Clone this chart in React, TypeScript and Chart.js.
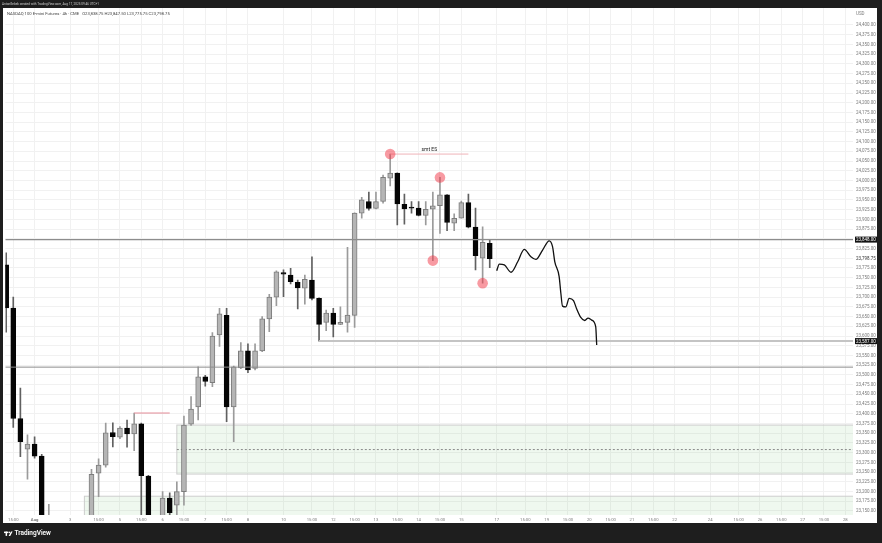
import React, { useEffect, useRef } from 'react';
import { Chart, registerables } from 'chart.js';

Chart.register(...registerables);

const FONT = 'Roboto, "Liberation Sans", sans-serif';

// NQ 4h bars, Jul 31 11:00 (bar 0) to Aug 15 19:00 (bar 68), UTC+1
const opens = [
  23783, 23672, 23388, 23309, 23322, 23291, 23060, 23105, 22975, 23020,
  23045, 23085, 23110, 23247, 23268, 23352, 23340, 23363, 23348, 23374,
  23240, 23095, 23118, 23183, 23165, 23200, 23373, 23418, 23495, 23480,
  23603, 23653, 23418, 23518, 23562, 23517, 23562, 23644, 23700, 23763,
  23757, 23738, 23723, 23744, 23697, 23635, 23659, 23630, 23635, 23653,
  23916, 23946, 23928, 23946, 24006, 24019, 23939, 23931, 23929, 23910,
  23926, 23935, 23963, 23890, 23903, 23943, 23880, 23800, 23838.75,
];
const highs = [
  23814, 23700, 23466, 23346, 23341, 23296, 23167, 23130, 23045, 23070,
  23110, 23135, 23257, 23284, 23376, 23377, 23367, 23384, 23402, 23376,
  23242, 23135, 23200, 23197, 23225, 23394, 23444, 23521, 23499, 23609,
  23671, 23671, 23523, 23583, 23580, 23580, 23650, 23707, 23768, 23770,
  23774, 23744, 23757, 23804, 23698, 23667, 23671, 23675, 23828, 23917,
  23957, 23970, 23970, 24014, 24068, 24020, 23965, 23946, 23946, 23946,
  23970, 24008, 23964, 23914, 23947, 23965, 23929, 23881, 23847.5,
];
const lows = [
  23610, 23365, 23290, 23232, 23286, 23040, 23030, 22940, 22925, 22990,
  23015, 23060, 23090, 23187, 23263, 23315, 23336, 23314, 23305, 23120,
  23060, 23050, 23100, 23110, 23140, 23165, 23370, 23384, 23471, 23470,
  23573, 23380, 23328, 23516, 23506, 23513, 23560, 23611, 23678, 23701,
  23734, 23670, 23682, 23693, 23587, 23614, 23598, 23629, 23610, 23622,
  23903, 23924, 23927, 23942, 23986, 23886, 23888, 23916, 23909, 23886,
  23794, 23864, 23871, 23871, 23903, 23878, 23770, 23736, 23775.75,
];
const closes = [
  23672, 23388, 23328, 23322, 23291, 23075, 23105, 22975, 23020, 23045,
  23085, 23110, 23244, 23268, 23351, 23341, 23363, 23348, 23374, 23241,
  23095, 23118, 23183, 23146, 23200, 23371, 23412, 23495, 23483, 23600,
  23657, 23418, 23521, 23562, 23513, 23562, 23644, 23700, 23765, 23759,
  23740, 23724, 23746, 23697, 23630, 23659, 23630, 23635, 23654, 23916,
  23950, 23928, 23946, 24008, 24019, 23940, 23927, 23929, 23910, 23926,
  23935, 23963, 23892, 23903, 23943, 23880, 23807, 23841, 23798.75,
];

// time axis labels (bar index -> text), future bars continue the session grid
const timeTickBars = [
  1, 4, 9, 13, 16, 19, 22, 25, 28, 31, 34, 39, 43, 46, 49, 52, 55, 58, 61, 64,
  69, 73, 76, 79, 82, 85, 88, 91, 94, 99, 103, 106, 109, 112, 115, 118,
];
const timeTickLabels = [
  '15:00', 'Aug', '3', '15:00', '5', '15:00', '6', '15:00', '7', '15:00', '8', '10',
  '15:00', '12', '15:00', '13', '15:00', '14', '15:00', '15',
  '17', '15:00', '19', '15:00', '20', '15:00', '21', '15:00', '22', '24',
  '15:00', '26', '15:00', '27', '15:00', '28',
];

// price axis grid
const PRICE_TICK_FIRST = 23150;
const PRICE_TICK_LAST = 24400;
const PRICE_TICK_STEP = 25;

// visible window
const X_MIN = -0.12;
const X_MAX = 119.08;
const Y_MIN = 23139.7;
const Y_MAX = 24443.7;

// horizontal levels
const levelPrices = [23848, 23587, 23520];
const levelStartBars = [X_MIN, 44, X_MIN];
const levelOnAxis = [true, true, false];

// demand zones (extend right)
const zoneStartBars = [24, 11];
const zoneTops = [23371, 23188];
const zoneBottoms = [23245, 23060];

// marked swing points
const markerBars = [54, 61, 60, 67];
const markerSides = ['high', 'high', 'low', 'low'];

// short trend lines from a bar's high
const rayFromBars = [54, 18];
const rayToBars = [65, 23];
const rayNotes = ['smt ES', ''];

// projected path
const pathBars = [
  68.98, 69.35, 70.05, 70.99, 71.93, 72.85, 73.79, 74.49, 75.43, 76.36, 76.83,
  77.15, 77.76, 78.0, 78.23, 78.7, 79.16, 79.78, 80.2, 80.8, 81.36, 81.82, 82.34,
  82.9, 83.04,
];
const pathPrices = [
  23768, 23785, 23783, 23764, 23791, 23823, 23804, 23797, 23821, 23845, 23830,
  23791, 23753, 23710, 23677, 23675, 23697, 23691, 23671, 23648, 23640, 23646,
  23641, 23624, 23577,
];

const fmt = (v: number) =>
  v.toLocaleString('en-US', { minimumFractionDigits: 2, maximumFractionDigits: 2 });

const barIdx = opens.map((_, i) => i);
const isBull = (i: number) => closes[i] >= opens[i];
const last = opens.length - 1;

const priceTicks: number[] = [];
for (let p = PRICE_TICK_FIRST; p <= PRICE_TICK_LAST; p += PRICE_TICK_STEP) priceTicks.push(p);

const axisBadgePrices = levelPrices.filter((_, i) => levelOnAxis[i]);
const hiddenNear = [...axisBadgePrices, closes[last]];

const tickTextByBar = new Map<number, string>();
timeTickBars.forEach((b, i) => tickTextByBar.set(b, timeTickLabels[i]));

const framePlugin = {
  id: 'frame',
  beforeDraw(chart: any) {
    const { ctx, width, height } = chart;
    ctx.save();
    ctx.fillStyle = '#1e1e1e';
    ctx.fillRect(0, 0, width, height);
    ctx.fillStyle = '#ffffff';
    ctx.fillRect(3, 8, 874, 515);
    ctx.restore();
  },
};

const zonesPlugin = {
  id: 'zones',
  beforeDatasetsDraw(chart: any) {
    const { ctx, chartArea, scales } = chart;
    const { x, y } = scales;
    ctx.save();
    ctx.beginPath();
    ctx.rect(chartArea.left, chartArea.top, chartArea.width, chartArea.height);
    ctx.clip();
    zoneStartBars.forEach((bar, i) => {
      const left = x.getPixelForValue(bar);
      const right = chartArea.right;
      const top = y.getPixelForValue(zoneTops[i]);
      const bottom = y.getPixelForValue(zoneBottoms[i]);
      ctx.fillStyle = 'rgba(76,175,80,0.09)';
      ctx.fillRect(left, top, right - left, bottom - top);
      ctx.strokeStyle = '#cdcdcd';
      ctx.lineWidth = 1;
      ctx.strokeRect(left, top, right - left + 2, bottom - top);
      const mid = y.getPixelForValue((zoneTops[i] + zoneBottoms[i]) / 2);
      ctx.strokeStyle = '#8a8a8a';
      ctx.setLineDash([2, 2]);
      ctx.beginPath();
      ctx.moveTo(left, mid);
      ctx.lineTo(right, mid);
      ctx.stroke();
      ctx.setLineDash([]);
    });
    ctx.restore();
  },
};

const notesPlugin = {
  id: 'notes',
  afterDatasetsDraw(chart: any) {
    const { ctx, scales } = chart;
    const { x, y } = scales;
    ctx.save();
    ctx.font = `5px ${FONT}`;
    ctx.fillStyle = '#222';
    ctx.textAlign = 'center';
    ctx.textBaseline = 'bottom';
    rayFromBars.forEach((b, i) => {
      if (!rayNotes[i]) return;
      const cx = x.getPixelForValue((b + rayToBars[i]) / 2);
      const cy = y.getPixelForValue(highs[b]) - 1.5;
      ctx.fillText(rayNotes[i], cx, cy);
    });
    ctx.restore();
  },
};

const chromePlugin = {
  id: 'chrome',
  afterDraw(chart: any) {
    const { ctx, chartArea, scales } = chart;
    const { y } = scales;
    ctx.save();
    const ax = chartArea.right + 3;

    // price axis badges for levels
    ctx.textBaseline = 'middle';
    ctx.textAlign = 'left';
    axisBadgePrices.forEach((p) => {
      const py = y.getPixelForValue(p);
      ctx.fillStyle = '#131313';
      ctx.fillRect(chartArea.right + 2, py - 3, 22, 6);
      ctx.fillStyle = '#ffffff';
      ctx.font = `4.5px ${FONT}`;
      ctx.fillText(fmt(p), ax, py + 0.3);
    });

    // last price
    ctx.fillStyle = '#333';
    ctx.font = `4.5px ${FONT}`;
    ctx.fillText(fmt(closes[last]), ax, y.getPixelForValue(closes[last]));

    // currency
    ctx.fillStyle = '#7b7b7b';
    ctx.fillText('USD', ax, 14);

    // header line
    ctx.fillStyle = '#cfcfcf';
    ctx.font = `3.1px ${FONT}`;
    ctx.fillText('AntonGebek created with TradingView.com, Aug 17, 2025 09:46 UTC+1', 2, 4);

    // symbol legend
    ctx.fillStyle = '#444';
    ctx.font = `4.2px ${FONT}`;
    const legend =
      'NASDAQ 100 E-mini Futures · 4h · CME   ' +
      `O${fmt(opens[last])} H${fmt(highs[last])} L${fmt(lows[last])} C${fmt(closes[last])}`;
    ctx.fillText(legend, 7, 13.5);

    // footer brand
    ctx.fillStyle = '#ffffff';
    ctx.fillRect(4, 531.6, 4.2, 1.5);
    ctx.fillRect(5.6, 531.6, 1.5, 4.3);
    ctx.beginPath();
    ctx.arc(9.3, 532.4, 0.8, 0, Math.PI * 2);
    ctx.fill();
    ctx.beginPath();
    ctx.moveTo(8.6, 535.9);
    ctx.lineTo(11, 531.6);
    ctx.lineTo(12.6, 531.6);
    ctx.lineTo(10.2, 535.9);
    ctx.closePath();
    ctx.fill();
    ctx.font = `600 6.5px ${FONT}`;
    ctx.fillText('TradingView', 14.5, 533.8);
    ctx.restore();
  },
};

export default function App() {
  const ref = useRef<HTMLCanvasElement>(null);

  useEffect(() => {
    if (!ref.current) return;

    const levelSets = levelPrices.map((p, i) => ({
      type: 'line' as const,
      data: [
        { x: levelStartBars[i], y: p },
        { x: X_MAX, y: p },
      ],
      borderColor: i === 1 ? '#c4c4c4' : '#8d8d8d',
      borderWidth: i === 1 ? 2 : i === 0 ? 1.2 : 1,
      pointRadius: 0,
      order: 2,
    }));

    const raySets = rayFromBars.map((b, i) => ({
      type: 'line' as const,
      data: [
        { x: b, y: highs[b] },
        { x: rayToBars[i], y: highs[b] },
      ],
      borderColor: i === 0 ? '#efb3b9' : '#e58c98',
      borderWidth: 1,
      pointRadius: 0,
      order: 2,
    }));

    const chart = new Chart(ref.current, {
      type: 'bar',
      data: {
        datasets: [
          {
            type: 'bar',
            data: barIdx.map((i) => ({ x: i, y: [lows[i], highs[i]] })) as any,
            backgroundColor: barIdx.map((i) => (isBull(i) ? '#9b9b9b' : '#606060')),
            barThickness: 1,
            grouped: false,
            order: 5,
          },
          {
            type: 'bar',
            data: barIdx.map((i) => ({ x: i, y: [opens[i], closes[i]] })) as any,
            backgroundColor: barIdx.map((i) => (isBull(i) ? '#b5b5b5' : '#050505')),
            borderColor: barIdx.map((i) => (isBull(i) ? '#7d7d7d' : '#050505')),
            borderWidth: 1,
            borderSkipped: false,
            barThickness: 5,
            minBarLength: 1,
            grouped: false,
            order: 4,
          },
          ...levelSets,
          ...raySets,
          {
            type: 'line',
            data: pathBars.map((b, i) => ({ x: b, y: pathPrices[i] })),
            borderColor: '#111111',
            borderWidth: 1.3,
            pointRadius: 0,
            cubicInterpolationMode: 'monotone',
            order: 1,
          },
          {
            type: 'scatter',
            data: markerBars.map((b, i) => ({
              x: b,
              y: markerSides[i] === 'high' ? highs[b] : lows[b],
            })),
            pointRadius: 5.3,
            pointBackgroundColor: 'rgba(242,54,69,0.5)',
            pointBorderWidth: 0,
            order: 0,
          },
        ] as any,
      },
      plugins: [framePlugin, zonesPlugin, notesPlugin, chromePlugin],
      options: {
        animation: false,
        responsive: false,
        devicePixelRatio: 1,
        events: [],
        layout: { padding: { left: 3, top: 8, right: 5, bottom: 20 } },
        plugins: { legend: { display: false }, tooltip: { enabled: false } },
        scales: {
          x: {
            type: 'linear',
            min: X_MIN,
            max: X_MAX,
            offset: false,
            grid: { color: '#f1f1f1', drawTicks: false, offset: false },
            border: { display: false },
            afterBuildTicks: (s: any) => {
              s.ticks = timeTickBars.map((v) => ({ value: v }));
            },
            afterFit: (s: any) => {
              s.height = 8;
            },
            ticks: {
              autoSkip: false,
              maxRotation: 0,
              minRotation: 0,
              padding: 2,
              color: '#7b7b7b',
              font: (c: any) => ({
                family: FONT,
                size: 4.2,
                weight: c.tick && tickTextByBar.get(c.tick.value) === 'Aug' ? 'bold' : 'normal',
              }),
              callback: (v: any) => tickTextByBar.get(Number(v)) ?? '',
            },
          },
          y: {
            type: 'linear',
            position: 'right',
            min: Y_MIN,
            max: Y_MAX,
            grid: { color: '#f1f1f1', drawTicks: false },
            border: { display: false },
            afterBuildTicks: (s: any) => {
              s.ticks = priceTicks.map((v) => ({ value: v }));
            },
            afterFit: (s: any) => {
              s.width = 24;
            },
            ticks: {
              autoSkip: false,
              padding: 3,
              color: '#7b7b7b',
              font: { family: FONT, size: 4.5 },
              callback: (v: any) => {
                const n = Number(v);
                return hiddenNear.some((p) => Math.abs(p - n) < 10) ? '' : fmt(n);
              },
            },
          },
        },
      } as any,
    });

    return () => chart.destroy();
  }, []);

  return (
    <div
      style={{
        position: 'absolute',
        left: 0,
        top: 0,
        width: 882,
        height: 543,
        background: '#1e1e1e',
      }}
    >
      <canvas ref={ref} width={882} height={543} style={{ display: 'block', width: 882, height: 543 }} />
    </div>
  );
}
